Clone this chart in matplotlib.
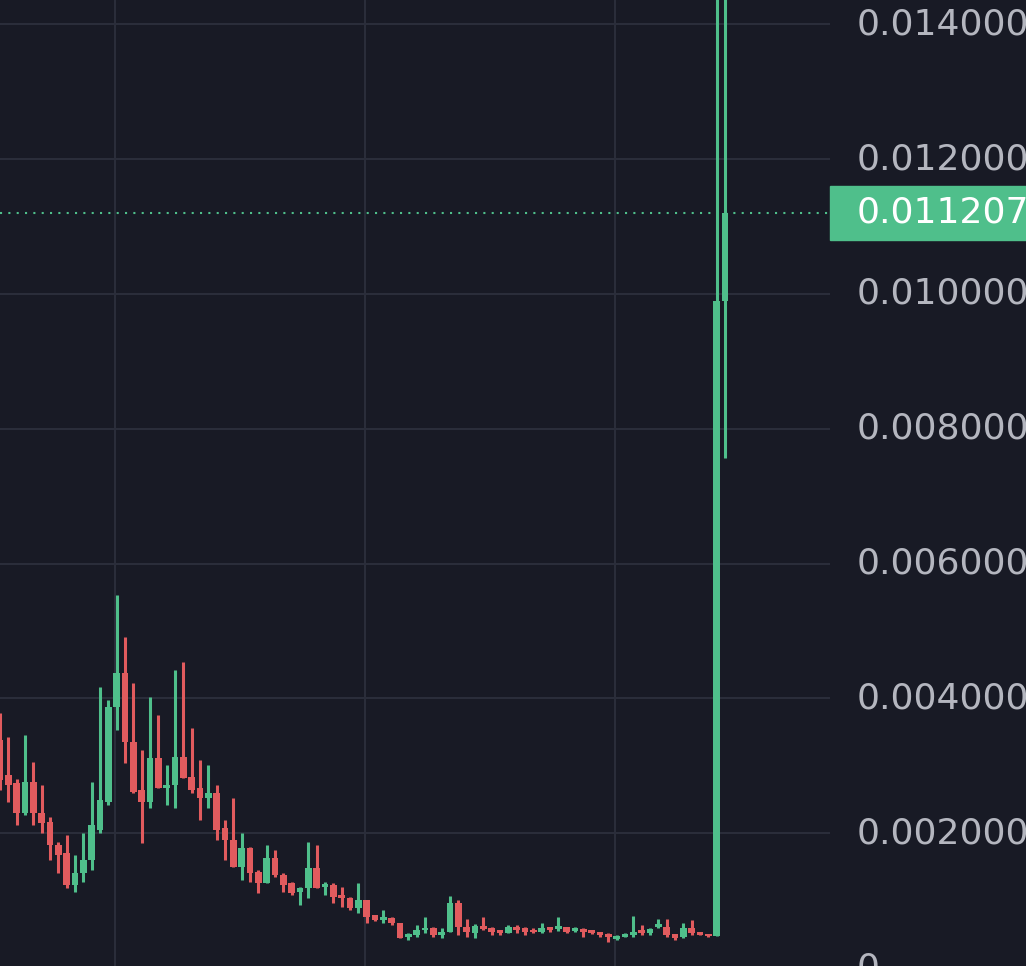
import numpy as np
import matplotlib
matplotlib.use("Agg")
import matplotlib.pyplot as plt
from matplotlib.patches import Rectangle

SCALE = 1e-4  # values below are in units of 0.0001

opens = [33.8, 28.6, 27.4, 23.0, 27.6, 23.0, 21.7, 18.2, 17.1, 12.3,
         14.1, 16.0, 20.5, 24.6, 38.7, 43.8, 33.5, 26.4, 24.6, 31.2,
         26.7, 27.2, 31.3, 28.3, 26.7, 25.2, 26.0, 20.8, 19.0, 15.0,
         17.8, 14.2, 12.6, 16.3, 13.8, 12.6, 11.3, 11.9, 14.8, 12.0,
         12.3, 10.8, 10.4, 8.9, 10.1, 7.9, 7.1, 7.4, 6.7, 4.6,
         4.9, 5.6, 5.9, 4.9, 5.3, 9.6, 6.1, 5.2, 6.2, 5.9,
         5.3, 5.2, 6.1, 5.9, 5.6, 5.3, 6.1, 5.8, 6.1, 5.5,
         5.8, 5.5, 5.2, 4.9, 4.3, 4.6, 4.9, 5.6, 5.2, 6.1,
         6.1, 5.0, 4.6, 5.9, 5.2, 5.0, 4.7, 99.0]
closes = [27.9, 27.2, 23.0, 27.6, 23.0, 21.5, 18.2, 16.8, 12.3, 14.1,
          16.0, 21.2, 24.9, 38.7, 43.8, 33.5, 26.1, 24.6, 31.2, 26.7,
          27.2, 31.3, 28.2, 26.4, 25.2, 26.0, 20.5, 19.0, 15.0, 17.8,
          14.1, 12.6, 16.3, 13.8, 12.3, 11.1, 11.9, 14.8, 11.9, 12.3,
          10.5, 10.4, 8.9, 10.1, 7.6, 7.1, 7.6, 6.7, 4.5, 4.9,
          5.6, 5.9, 4.9, 5.3, 9.6, 6.1, 5.3, 6.2, 5.8, 5.3,
          5.2, 6.1, 5.6, 5.3, 5.3, 5.9, 5.6, 6.1, 5.3, 5.9,
          5.3, 5.2, 4.9, 4.6, 4.7, 5.0, 5.3, 5.2, 5.8, 6.2,
          4.9, 4.5, 5.9, 5.2, 4.9, 4.7, 99.0, 112.07]
highs = [37.8, 34.3, 28.0, 34.6, 30.6, 27.2, 22.4, 18.7, 19.7, 16.8,
         20.0, 27.6, 41.7, 39.8, 55.3, 49.1, 42.3, 32.3, 40.2, 37.5,
         30.1, 44.2, 45.4, 35.6, 30.9, 30.1, 27.2, 22.0, 25.2, 20.0,
         18.0, 14.5, 18.2, 17.5, 14.1, 12.8, 12.0, 18.7, 18.2, 12.8,
         12.6, 12.0, 10.5, 12.6, 10.1, 7.9, 8.6, 7.6, 6.7, 5.2,
         6.4, 7.6, 6.1, 5.9, 10.7, 10.1, 7.3, 6.5, 7.6, 6.1,
         5.6, 6.4, 6.4, 6.1, 5.9, 6.7, 6.1, 7.6, 6.1, 6.1,
         5.9, 5.6, 5.3, 5.2, 4.9, 5.2, 7.7, 6.4, 5.9, 7.3,
         7.3, 5.0, 6.7, 7.1, 5.3, 5.0, 150.0, 150.0]
lows = [26.4, 24.6, 21.2, 22.7, 21.2, 20.0, 16.0, 14.1, 11.9, 11.3,
        12.8, 14.5, 20.0, 24.2, 35.3, 30.4, 26.0, 18.5, 23.7, 26.7,
        24.2, 23.7, 28.2, 26.0, 22.0, 23.7, 19.0, 16.0, 15.0, 13.1,
        12.8, 11.1, 12.6, 13.5, 11.3, 10.8, 9.3, 10.4, 11.9, 10.8,
        9.6, 9.1, 8.6, 8.2, 6.7, 7.0, 6.7, 6.4, 4.5, 4.2,
        4.6, 5.2, 4.6, 4.5, 5.3, 4.9, 4.6, 4.5, 5.6, 4.9,
        4.9, 5.2, 5.2, 4.9, 5.2, 5.2, 5.3, 5.5, 5.2, 5.3,
        4.6, 5.0, 4.6, 3.9, 4.2, 4.6, 4.6, 4.9, 4.9, 5.9,
        4.6, 4.2, 4.5, 4.9, 4.9, 4.6, 4.7, 75.7]

last_price = 0.011207
y_ticks = [0.0, 0.002, 0.004, 0.006, 0.008, 0.010, 0.012, 0.014]

BG = "#181a25"
GRID = "#2a2d3a"
GREEN = "#4fbf8b"
RED = "#e15b5e"
LABEL = "#b4b6bf"

o = np.array(opens) * SCALE
c = np.array(closes) * SCALE
h = np.array(highs) * SCALE
l = np.array(lows) * SCALE
x = np.arange(len(o))
cols = [GREEN if cc >= oo else RED for oo, cc in zip(o, c)]

fig = plt.figure(figsize=(10.26, 9.66), dpi=100, facecolor=BG)
ax = fig.add_axes([0, 0, 830 / 1026, 1])
ax.set_facecolor(BG)

ymin, ymax = 0.00003, 0.01436
ax.set_ylim(ymin, ymax)
ax.set_xlim(0, 99.6)

# grid
for v in y_ticks:
    ax.axhline(v, color=GRID, lw=1.5, zorder=0)
for gx in [13.8, 43.8, 73.8]:
    ax.axvline(gx, color=GRID, lw=1.5, zorder=0)

# candles
ax.vlines(x, l, h, colors=cols, lw=2.2, zorder=2)
bottoms = np.minimum(o, c)
heights = np.maximum(np.abs(c - o), 0.00004)
ax.bar(x, heights, bottom=bottoms, width=0.8, color=cols, zorder=3)

# last price line
ax.axhline(last_price, color=GREEN, lw=1.5, ls=(0, (1, 3)), zorder=1)

for s in ax.spines.values():
    s.set_visible(False)
ax.set_xticks([])
ax.set_yticks([])

# right-hand price labels
def fy(v):
    return (v - ymin) / (ymax - ymin)

for v in y_ticks:
    fig.text(857 / 1026, fy(v), f"{v:.6f}" if v > 0 else "0",
             color=LABEL, fontsize=26, va="center", ha="left")

fig.patches.append(Rectangle((830 / 1026, fy(last_price) - 27 / 966), 196 / 1026, 54 / 966,
                             transform=fig.transFigure, color=GREEN, zorder=5))
fig.text(857 / 1026, fy(last_price), f"{last_price:.6f}", color="white",
         fontsize=26, va="center", ha="left", zorder=6)

fig.savefig("out.png", dpi=100, facecolor=BG)
